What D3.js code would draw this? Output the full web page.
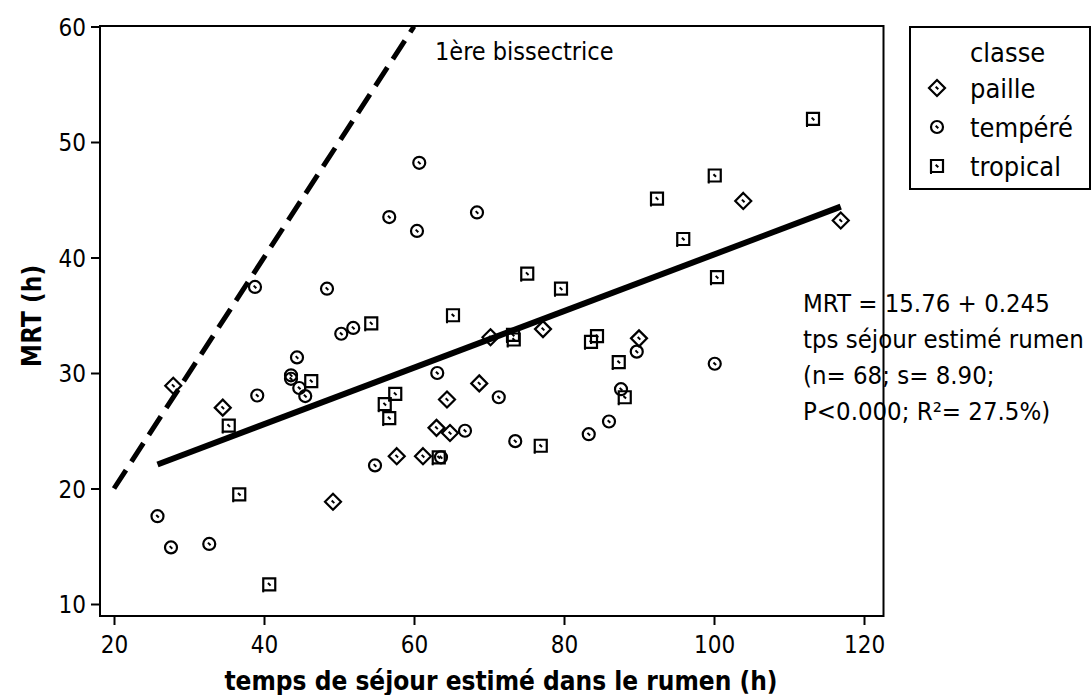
<!DOCTYPE html>
<html><head><meta charset="utf-8">
<script src="https://cdn.jsdelivr.net/npm/d3@7"></script>
<style>body{margin:0;background:#fff}svg{display:block}text{font-family:"DejaVu Sans Condensed","DejaVu Sans",Verdana,sans-serif;font-stretch:condensed;fill:#000}</style>
</head><body><svg id="c" width="1091" height="695"></svg>
<script>
const xTicks = [20, 40, 60, 80, 100, 120];
const yTicks = [10, 20, 30, 40, 50, 60];
const classes = ["paille", "tempéré", "tropical"];
const pailleX = [27.9, 34.5, 49.2, 57.7, 61.2, 63.0, 64.4, 64.8, 68.7, 70.2, 77.2, 90.0, 103.9, 116.9];
const pailleY = [28.9, 27.0, 18.85, 22.8, 22.8, 25.25, 27.7, 24.8, 29.1, 33.1, 33.8, 33.0, 44.9, 43.2];
const tempereX = [25.8, 27.6, 32.7, 38.8, 39.1, 43.6, 43.6, 44.4, 44.7, 45.5, 48.4, 50.3, 51.9, 54.8, 56.7, 60.4, 60.7, 63.1, 63.6, 66.8, 68.4, 71.3, 73.5, 83.3, 86.0, 87.6, 89.7, 100.1];
const tempereY = [17.6, 14.9, 15.2, 37.45, 28.05, 29.8, 29.5, 31.35, 28.7, 28.0, 37.3, 33.4, 33.9, 22.0, 43.5, 42.3, 48.2, 30.0, 22.7, 25.0, 43.9, 27.9, 24.1, 24.7, 25.8, 28.6, 31.85, 30.8];
const tropicalX = [35.3, 36.7, 40.7, 46.3, 54.3, 56.1, 56.7, 57.5, 63.3, 65.2, 73.2, 73.3, 75.1, 76.9, 79.6, 83.6, 84.4, 87.3, 88.1, 92.4, 95.9, 100.1, 100.4, 113.2];
const tropicalY = [25.45, 19.5, 11.7, 29.3, 34.3, 27.3, 26.1, 28.2, 22.7, 35.0, 33.3, 32.9, 38.6, 23.7, 37.3, 32.7, 33.2, 30.95, 27.9, 45.1, 41.6, 47.1, 38.3, 52.0];
const intercept = 15.76, slope = 0.245;
const bisectrice = [20, 60];
const annotation = ["MRT = 15.76 + 0.245", "tps séjour estimé rumen", "(n= 68; s= 8.90;", "P<0.000; R²= 27.5%)"];

const svg = d3.select("#c");
const frame = {l: 100, r: 883.5, t: 26, b: 616};
const x = d3.scaleLinear().domain([20, 120]).range([114, 864]);
const y = d3.scaleLinear().domain([10, 60]).range([604, 26.5]);

// axes
const gx = svg.append("g").attr("transform", `translate(0,${frame.b})`)
  .call(d3.axisBottom(x).tickValues(xTicks).tickSize(9).tickSizeOuter(0).tickFormat(d3.format("d")));
const gy = svg.append("g").attr("transform", `translate(${frame.l},0)`)
  .call(d3.axisLeft(y).tickValues(yTicks).tickSize(9).tickSizeOuter(0).tickFormat(d3.format("d")));
[gx, gy].forEach(g => {
  g.select(".domain").remove();
  g.selectAll("line").attr("stroke", "#000").attr("stroke-width", 2);
  g.selectAll("text").attr("font-size", 24).attr("font-family", null).attr("fill", "#000");
});
gx.selectAll("text").attr("y", 37).attr("dy", 0);
gy.selectAll("text").attr("dy", "0.36em").attr("x", -14);

svg.append("rect").attr("x", frame.l).attr("y", frame.t)
  .attr("width", frame.r - frame.l).attr("height", frame.b - frame.t)
  .attr("fill", "none").attr("stroke", "#000").attr("stroke-width", 2);

// axis titles
svg.append("text").attr("x", 501).attr("y", 690).attr("text-anchor", "middle")
  .attr("font-size", 26).attr("font-weight", "bold").text("temps de séjour estimé dans le rumen (h)");
svg.append("text").attr("transform", "translate(41,316) rotate(-90)").attr("text-anchor", "middle")
  .attr("font-size", 26).attr("font-weight", "bold").text("MRT (h)");

// bisectrice
svg.append("line").attr("x1", x(bisectrice[0])).attr("y1", y(bisectrice[0]))
  .attr("x2", x(bisectrice[1])).attr("y2", y(bisectrice[1]))
  .attr("stroke", "#000").attr("stroke-width", 5).attr("stroke-dasharray", "22,10");
svg.append("text").attr("x", 435).attr("y", 60).attr("font-size", 25).text("1ère bissectrice");

// regression
const allX = pailleX.concat(tempereX, tropicalX);
const ext = d3.extent(allX);
svg.append("line").attr("x1", x(ext[0])).attr("y1", y(intercept + slope * ext[0]))
  .attr("x2", x(ext[1])).attr("y2", y(intercept + slope * ext[1]))
  .attr("stroke", "#000").attr("stroke-width", 6);

// markers
function marker(g, type) {
  if (type === "paille") {
    g.append("path").attr("d", "M0,-8L8,0L0,8L-8,0Z");
  } else if (type === "tempéré") {
    g.append("circle").attr("r", 6);
  } else {
    g.append("path").attr("d", "M-6,-6H6V6H-6Z");
    g.append("path").attr("d", "M-6,6V8").attr("stroke-width", 2);
  }
  g.append("path").attr("d", "M-1.3,-1.3L1.3,1.3").attr("stroke-width", 2);
}
const series = [
  {name: "paille", xs: pailleX, ys: pailleY},
  {name: "tempéré", xs: tempereX, ys: tempereY},
  {name: "tropical", xs: tropicalX, ys: tropicalY}
];
series.forEach(s => {
  s.xs.forEach((xv, i) => {
    const g = svg.append("g").attr("transform", `translate(${x(xv)},${y(s.ys[i])})`)
      .attr("fill", "none").attr("stroke", "#000").attr("stroke-width", 2.2);
    marker(g, s.name);
  });
});

// annotation
annotation.forEach((t, i) => {
  svg.append("text").attr("x", 803).attr("y", 312 + i * 36).attr("font-size", 25.5).text(t);
});

// legend
svg.append("rect").attr("x", 910).attr("y", 27).attr("width", 180).attr("height", 162)
  .attr("fill", "#fff").attr("stroke", "#000").attr("stroke-width", 2);
svg.append("text").attr("x", 970).attr("y", 62).attr("font-size", 27).text("classe");
classes.forEach((c, i) => {
  const cy = 88 + i * 39;
  const g = svg.append("g").attr("transform", `translate(937,${cy})`)
    .attr("fill", "none").attr("stroke", "#000").attr("stroke-width", 2.2);
  marker(g, c);
  svg.append("text").attr("x", 970).attr("y", cy + 10).attr("font-size", 27).text(c);
});
</script></body></html>
